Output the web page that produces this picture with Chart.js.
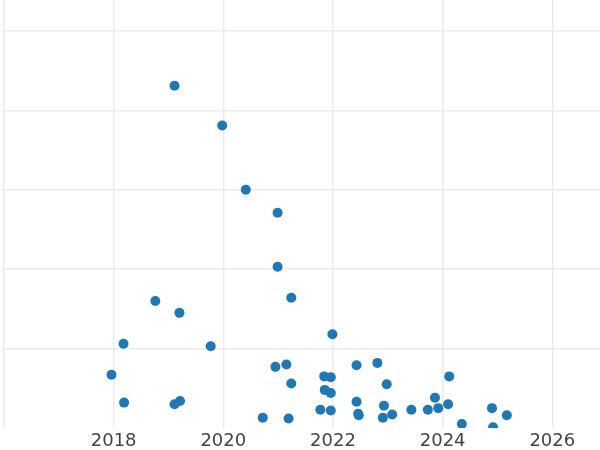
<!DOCTYPE html>
<html>
<head>
<meta charset="utf-8">
<script src="https://cdn.jsdelivr.net/npm/chart.js@4/dist/chart.umd.min.js"></script>
<style>
  html, body { margin: 0; padding: 0; background: #fff; }
  #wrap { width: 600px; height: 450px; }
</style>
</head>
<body>
<div id="wrap"><canvas id="scatterChart"></canvas></div>
<script>
// x = decimal year, y = value (y axis labels are not shown in the original)
var years = [
  2019.11, 2019.98, 2020.41, 2020.99, 2020.99, 2018.76, 2021.24, 2019.20,
  2021.99, 2018.18, 2019.77, 2020.95, 2021.15, 2017.96, 2021.24, 2018.19,
  2019.11, 2019.21, 2020.72, 2021.19, 2022.43, 2022.81, 2021.84, 2021.96,
  2022.98, 2024.12, 2021.85, 2021.96, 2022.43, 2023.86, 2021.77, 2021.96,
  2022.46, 2022.47, 2022.93, 2022.91, 2023.08, 2023.43, 2023.73, 2023.92,
  2024.10, 2024.35, 2024.90, 2024.92, 2025.17
];
var values = [
  4.31, 3.81, 3.00, 2.71, 2.03, 1.60, 1.64, 1.45,
  1.18, 1.06, 1.03, 0.77, 0.80, 0.67, 0.56, 0.32,
  0.30, 0.34, 0.13, 0.12, 0.79, 0.82, 0.65, 0.64,
  0.55, 0.65, 0.48, 0.44, 0.33, 0.38, 0.23, 0.22,
  0.18, 0.16, 0.28, 0.13, 0.17, 0.23, 0.23, 0.25,
  0.30, 0.05, 0.25, 0.01, 0.16
];
var xTicks = [2016, 2018, 2020, 2022, 2024, 2026];
var hiddenTick = 2016;

function populateData(xArr, yArr) {
  let arr = [];
  for (let i in xArr) {
    arr.push({ x: xArr[i], y: yArr[i] });
  }
  return arr;
}

var canvas = document.getElementById("scatterChart");

var chart = new Chart(canvas, {
  type: 'scatter',
  data: {
    datasets: [{
      data: populateData(years, values),
      backgroundColor: '#1f77b4',
      borderColor: '#1f77b4',
      borderWidth: 0,
      pointRadius: 5,
      pointHoverRadius: 5
    }]
  },
  options: {
    responsive: true,
    maintainAspectRatio: false,
    animation: false,
    layout: { padding: { left: 0, right: 0, top: 0, bottom: -5 }, autoPadding: false },
    plugins: {
      legend: { display: false },
      tooltip: { enabled: false }
    },
    scales: {
      x: {
        type: 'linear',
        min: 2015.97,
        max: 2026.87,
        border: { display: false },
        grid: { color: '#ebebeb', lineWidth: 1.5, drawTicks: false },
        afterBuildTicks: function (axis) {
          axis.ticks = xTicks.map(function (v) { return { value: v }; });
        },
        ticks: {
          padding: 4,
          color: '#444',
          font: { family: 'DejaVu Sans', size: 18, lineHeight: '19px' },
          callback: function (v) { return v === hiddenTick ? '' : String(v); }
        }
      },
      y: {
        min: 0,
        max: 5.39,
        border: { display: false },
        grid: {
          drawTicks: false,
          lineWidth: 1.5,
          color: function (ctx) { return ctx.tick && ctx.tick.value === 0 ? 'rgba(0,0,0,0)' : '#ebebeb'; }
        },
        ticks: { display: false, stepSize: 1, includeBounds: false }
      }
    }
  }
});
</script>
</body>
</html>
